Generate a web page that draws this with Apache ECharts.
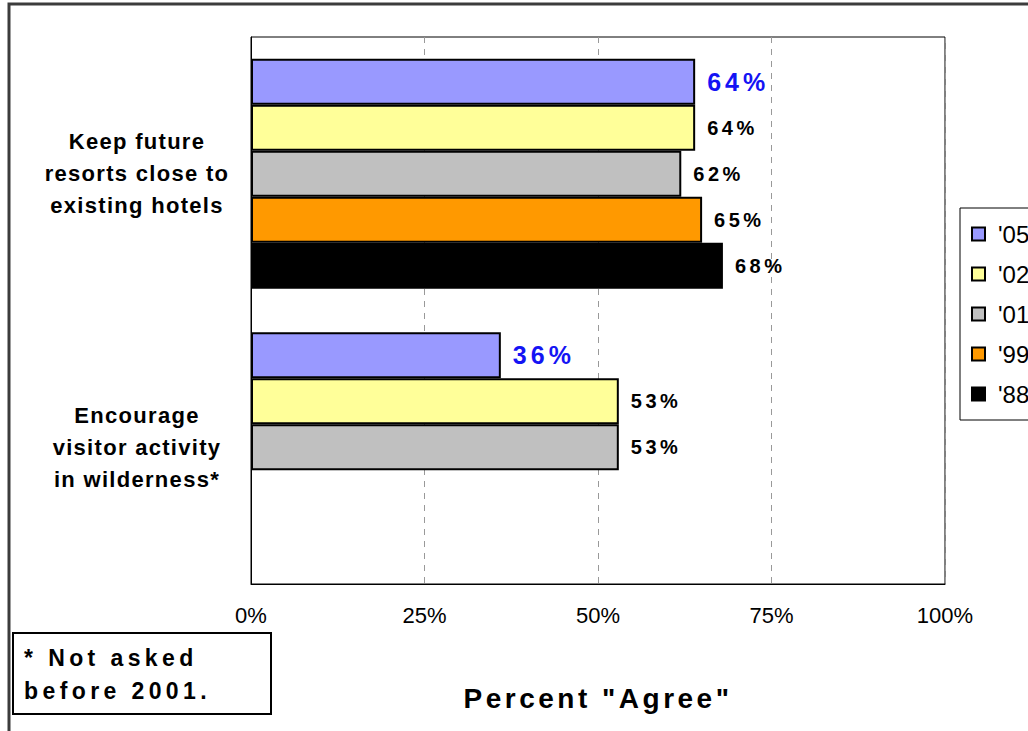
<!DOCTYPE html>
<html>
<head>
<meta charset="utf-8">
<script src="https://cdn.jsdelivr.net/npm/echarts@6/dist/echarts.min.js"></script>
<style>
  html, body { margin: 0; padding: 0; background: #fff; }
  #chart { width: 1028px; height: 731px; }
</style>
</head>
<body>
<div id="chart"></div>
<script>
// Survey statements (one band each, top to bottom)
const categories = [
  'Keep future\nresorts close to\nexisting hotels',
  'Encourage\nvisitor activity\nin wilderness*'
];

// Survey years, drawn top to bottom within each band
const years = ["'05", "'02", "'01", "'99", "'88"];

// Percent "Agree" per statement for each survey year
const agree05 = [64, 36];
const agree02 = [64, 53];
const agree01 = [62, 53];
const agree99 = [65, null];
const agree88 = [68, null];

const xTicks = [0, 25, 50, 75, 100];

const yearColors = ['#9999FF', '#FFFF99', '#C0C0C0', '#FF9900', '#000000'];
const seriesValues = [agree05, agree02, agree01, agree99, agree88];

const FONT = '"Liberation Sans", Arial, sans-serif';

const chart = echarts.init(document.getElementById('chart'), null, { renderer: 'svg' });

// Spread out the letters of the bold captions (keyed by weight and size)
const spacing = {
  'bold-20px': 3.5,
  'bold-22px': 1.3,
  'bold-23px': 4.4,
  'bold-25px': 4,
  'bold-28px': 3.5
};
function spreadText() {
  const texts = document.querySelectorAll('#chart svg text');
  texts.forEach(function (el) {
    const cs = getComputedStyle(el);
    const w = (cs.fontWeight === '700' || cs.fontWeight === 'bold') ? 'bold' : 'normal';
    const key = w + '-' + cs.fontSize;
    if (spacing[key] !== undefined) {
      el.setAttribute('letter-spacing', spacing[key] + 'px');
    }
  });
}
chart.on('finished', spreadText);

const series = years.map(function (yr, i) {
  const isLatest = i === 0;
  return {
    name: yr,
    type: 'bar',
    data: seriesValues[i],
    barWidth: 46,
    barGap: '0%',
    itemStyle: { color: yearColors[i], borderColor: '#000', borderWidth: 2 },
    label: {
      show: true,
      position: 'right',
      distance: 12,
      formatter: '{c}%',
      fontFamily: FONT,
      fontWeight: 'bold',
      fontSize: isLatest ? 25 : 20,
      color: isLatest ? '#1414f4' : '#000'
    },
    emphasis: { disabled: true }
  };
});

chart.setOption({
  animation: false,
  backgroundColor: '#fff',
  grid: {
    left: 251, right: 83, top: 37, bottom: 147,
    show: true, borderColor: '#000', borderWidth: 1
  },
  legend: {
    data: years,
    orient: 'vertical',
    left: 960,
    top: 208,
    padding: [14, 40, 14, 11],
    itemGap: 16,
    itemWidth: 13,
    itemHeight: 13,
    itemStyle: { borderColor: '#000', borderWidth: 2 },
    icon: 'rect',
    borderColor: '#000',
    borderWidth: 1,
    textStyle: {
      fontFamily: FONT, fontSize: 24, color: '#000', lineHeight: 24,
      padding: [0, 0, 0, 8]
    },
    selectedMode: false
  },
  xAxis: {
    type: 'value',
    min: xTicks[0],
    max: xTicks[xTicks.length - 1],
    interval: 25,
    name: 'Percent "Agree"',
    nameLocation: 'middle',
    nameGap: 100,
    nameTextStyle: { fontFamily: FONT, fontWeight: 'bold', fontSize: 28, color: '#000' },
    axisLine: { show: true, lineStyle: { color: '#000', width: 1 } },
    axisTick: { show: false },
    axisLabel: { formatter: '{value}%', margin: 20, fontFamily: FONT, fontSize: 22, color: '#000' },
    splitLine: { show: true, lineStyle: { color: '#999', type: [6, 6], width: 1 } }
  },
  yAxis: {
    type: 'category',
    data: categories,
    inverse: true,
    axisLine: { show: true, lineStyle: { color: '#000', width: 1 } },
    axisTick: { show: false },
    axisLabel: {
      margin: 114,
      align: 'center',
      fontFamily: FONT,
      fontWeight: 'bold',
      fontSize: 22,
      lineHeight: 32,
      color: '#000'
    }
  },
  graphic: [
    {
      type: 'rect',
      silent: true,
      z: -10,
      shape: { x: 9, y: 4, width: 1100, height: 800 },
      style: { fill: 'none', stroke: '#3c3c3c', lineWidth: 3 }
    },
    {
      type: 'rect',
      silent: true,
      shape: { x: 13, y: 633, width: 258, height: 81 },
      style: { fill: '#fff', stroke: '#000', lineWidth: 2 }
    },
    {
      type: 'text',
      silent: true,
      left: 24,
      top: 641,
      style: {
        text: '* Not asked\nbefore 2001.',
        font: 'bold 23px ' + FONT,
        lineHeight: 33,
        fill: '#000'
      }
    }
  ],
  series: series
});
</script>
</body>
</html>
